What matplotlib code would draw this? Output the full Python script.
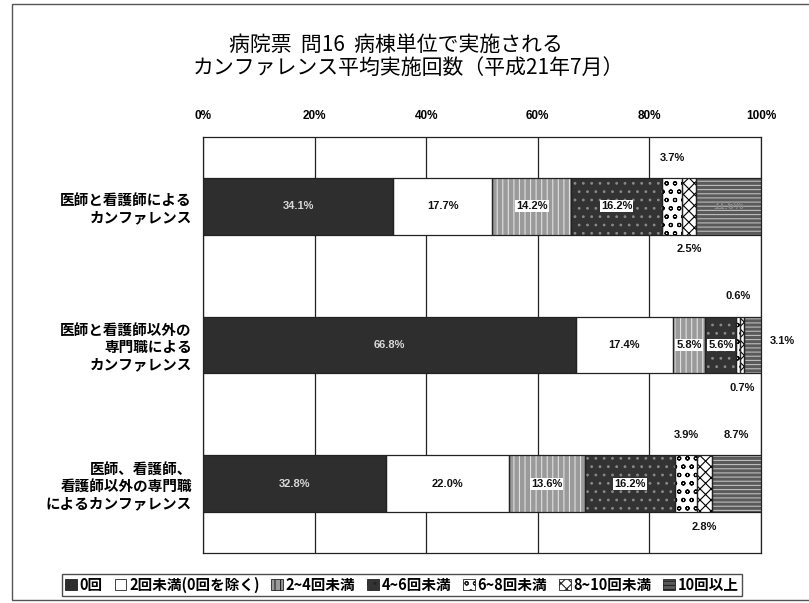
import matplotlib.pyplot as plt
import matplotlib.patches as mpatches
import numpy as np

plt.rcParams['font.family'] = ['Noto Sans CJK JP', 'DejaVu Sans']
plt.rcParams['hatch.linewidth'] = 0.8

# データ（%）
categories = ['医師と看護師による\nカンファレンス',
              '医師と看護師以外の\n専門職による\nカンファレンス',
              '医師、看護師、\n看護師以外の専門職\nによるカンファレンス']
series = ['0回', '2回未満(0回を除く)', '2~4回未満', '4~6回未満',
          '6~8回未満', '8~10回未満', '10回以上']
values = np.array([
    [34.1, 17.7, 14.2, 16.2, 3.7, 2.5, 11.6],
    [66.8, 17.4, 5.8, 5.6, 0.6, 0.7, 3.1],
    [32.8, 22.0, 13.6, 16.2, 3.9, 2.8, 8.7],
])
xticks = [0, 20, 40, 60, 80, 100]

# 塗りとハッチ (面の色, ハッチ, ハッチの色)
styles = [
    ('#2e2e2e', '', '#2e2e2e'),
    ('white', '', 'white'),
    ('#9a9a9a', '|||', '#e0e0e0'),
    ('#333333', '..', '#8a8a8a'),
    ('white', 'oo', 'black'),
    ('white', 'xxx', 'black'),
    ('#5a5a5a', '----', '#bdbdbd'),
]

# ラベル位置: 'in' 中, 'box' 白枠付き, 'up' 上, 'down' 下, 'right' 右, 'dim' 薄字
label_pos = [
    ['in_w', 'in', 'box', 'box', 'up', 'down', 'dim'],
    ['in_w', 'in', 'box', 'box', 'up', 'down', 'right'],
    ['in_w', 'in', 'box', 'box', 'up', 'down', 'up'],
]

fig = plt.figure(figsize=(8.09, 6.03), dpi=100)
ax = fig.add_axes([0.2509, 0.0829, 0.6898, 0.6899])

y = np.arange(len(categories))
h = 0.41
lbl_font = dict(fontsize=8, fontweight='bold', family=['Liberation Sans', 'DejaVu Sans'])

left = np.zeros(len(categories))
for j, name in enumerate(series):
    fc, hatch, hc = styles[j]
    ax.barh(y, values[:, j], left=left, height=h, color=fc, hatch=hatch,
            edgecolor=hc, linewidth=0, zorder=3)
    ax.barh(y, values[:, j], left=left, height=h, fill=False,
            edgecolor='#222222', linewidth=0.9, zorder=4)
    for i in range(len(categories)):
        v = values[i, j]
        cx = left[i] + v / 2
        txt = f'{v:.1f}%'
        pos = label_pos[i][j]
        if pos == 'in_w':
            ax.text(cx, y[i], txt, ha='center', va='center', color='#d8d8d8', zorder=5, **lbl_font)
        elif pos == 'in':
            ax.text(cx, y[i], txt, ha='center', va='center', color='#111111', zorder=5, **lbl_font)
        elif pos == 'box':
            ax.text(cx, y[i], txt, ha='center', va='center', color='#111111', zorder=5,
                    bbox=dict(boxstyle='square,pad=0.1', fc='white', ec='none'), **lbl_font)
        elif pos == 'dim':
            ax.text(cx, y[i], txt, ha='center', va='center', color='#8a8a8a', zorder=5, **lbl_font)
        elif pos == 'up':
            ax.text(cx, y[i] - 0.35, txt, ha='center', va='center', color='#111111', zorder=5, **lbl_font)
        elif pos == 'down':
            ax.text(cx, y[i] + 0.31, txt, ha='center', va='center', color='#111111', zorder=5, **lbl_font)
        elif pos == 'right':
            ax.text(101.6, y[i] - 0.03, txt, ha='left', va='center', color='#111111',
                    zorder=5, clip_on=False, **lbl_font)
    left = left + values[:, j]

ax.set_xlim(0, 100)
ax.set_ylim(2.5, -0.5)
ax.set_xticks(xticks)
ax.set_xticklabels([f'{t}%' for t in xticks], fontsize=8.5, fontweight='bold',
                   family=['Liberation Sans', 'DejaVu Sans'])
ax.xaxis.tick_top()
ax.tick_params(axis='x', length=0, pad=11)
ax.set_yticks(y)
ax.set_yticklabels(categories, fontsize=10.5, fontweight='bold', linespacing=1.1)
ax.tick_params(axis='y', length=0, pad=8)
for lbl in ax.get_yticklabels():
    lbl.set_horizontalalignment('right')
    lbl.set_multialignment('right')
ax.grid(axis='x', color='#222222', linewidth=0.9, zorder=0)
for sp in ax.spines.values():
    sp.set_color('#222222')
    sp.set_linewidth(0.9)

fig.text(0.490, 0.925, '病院票  問16  病棟単位で実施される', ha='center', va='center', fontsize=15)
fig.text(0.505, 0.887, 'カンファレンス平均実施回数（平成21年7月）', ha='center', va='center', fontsize=15)

handles = [mpatches.Patch(facecolor=s[0], hatch=s[1], edgecolor='#222222', linewidth=0.6)
           for s in styles]
leg = fig.legend(handles, series, loc='center', bbox_to_anchor=(0.497, 0.030), ncol=7,
                 handlelength=0.8, handleheight=0.8, handletextpad=0.2,
                 columnspacing=0.8, borderpad=0.2, fancybox=False, frameon=True,
                 prop={'weight': 'bold', 'size': 10.5})
leg.get_frame().set_edgecolor('#222222')
leg.get_frame().set_linewidth(1.0)

# 外枠
fig.patches.append(mpatches.Rectangle((12 / 809, 3 / 603), 1.2, 596 / 603, fill=False,
                                      edgecolor='#555555', linewidth=1.0,
                                      transform=fig.transFigure, figure=fig))

fig.savefig('out.png', dpi=100)
